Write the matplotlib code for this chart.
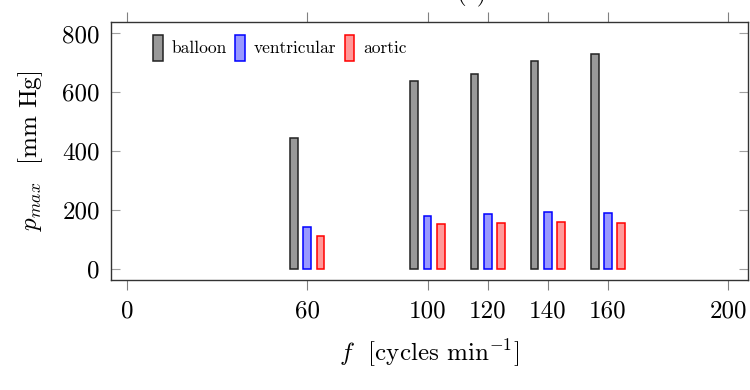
import matplotlib
matplotlib.use("Agg")
import matplotlib.pyplot as plt
import numpy as np

freq = [60, 100, 120, 140, 160]
balloon = [444, 640, 663, 708, 730]
ventricular = [142, 182, 186, 193, 189]
aortic = [114, 153, 155, 159, 157]
series_names = ["balloon", "ventricular", "aortic"]
xtick_vals = [0, 60, 100, 120, 140, 160, 200]
ytick_vals = [0, 200, 400, 600, 800]

plt.rcParams['font.family'] = ['cmr10', 'DejaVu Serif']
plt.rcParams['mathtext.fontset'] = 'cm'
plt.rcParams['axes.unicode_minus'] = False

fig = plt.figure(figsize=(7.5, 3.9), dpi=100)
ax = fig.add_axes([111/750, 1-280/390, (748-111)/750, (280-22)/390])

x = np.array(freq, dtype=float)
off = 4.4
w = 2.6
styles = [
    dict(facecolor='#999999', edgecolor='#222222'),
    dict(facecolor='#9999ff', edgecolor='#0000ff'),
    dict(facecolor='#ff9999', edgecolor='#ff0000'),
]
for i, (vals, st, name) in enumerate(zip([balloon, ventricular, aortic], styles, series_names)):
    ax.bar(x + (i - 1) * off, vals, width=w, linewidth=1.1, label=name, zorder=3, **st)

ax.set_xlim(-5.3, 206.6)
ax.set_ylim(-37, 839)
ax.set_xticks(xtick_vals)
ax.set_xticklabels([str(v) for v in xtick_vals])
ax.set_yticks(ytick_vals)
ax.set_yticklabels([str(v) for v in ytick_vals])

ax.tick_params(axis='x', direction='out', length=7.5, width=0.8, color='#808080',
               top=True, bottom=True, labelsize=18, pad=7)
ax.tick_params(axis='y', direction='in', length=6.5, width=0.8, color='#a0a0a0',
               left=True, right=True, labelsize=18, pad=8)
for sp in ax.spines.values():
    sp.set_linewidth(1.0)
    sp.set_color('#333333')

ax.set_ylabel(r'$p_{max}$  [mm Hg]', fontsize=18)
ax.yaxis.set_label_coords(-(111-45)/637, 0.5)
ax.set_xlabel(r'$f$  [cycles min$^{-1}$]', fontsize=18)
ax.xaxis.set_label_coords(0.5, -(338-280)/258)

leg = ax.legend(loc='upper left', bbox_to_anchor=(0.05, 0.99), ncol=3, frameon=False,
                fontsize=12.5, handlelength=0.55, handleheight=1.9, handletextpad=0.5,
                columnspacing=0.5, borderaxespad=0.2)

fig.text(472/750, 1 + 6/390, '(c)', ha='center', va='center', fontsize=18)

fig.savefig('out.png', dpi=100)
